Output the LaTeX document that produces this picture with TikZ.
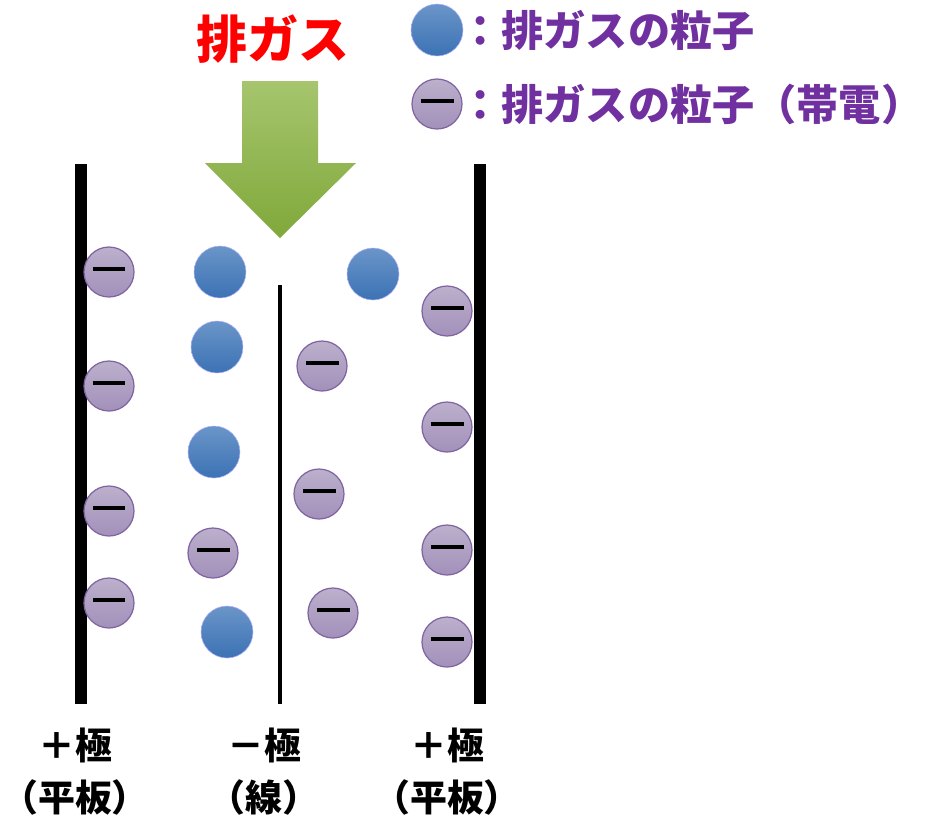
\documentclass[tikz,border=0pt]{standalone}
\usepackage{fontspec}
\setmainfont{Noto Sans CJK JP}
\definecolor{gasred}{HTML}{FF0000}
\definecolor{legendpurple}{HTML}{7030A0}
\tikzset{
  particle/.style={circle, minimum size=1.04cm, inner sep=0pt,
    draw=blue!30!white, line width=0.3pt,
    top color={rgb,255:red,106;green,149;blue,200},
    bottom color={rgb,255:red,60;green,114;blue,180}},
  charged/.style={circle, minimum size=1cm, inner sep=0pt,
    draw={rgb,255:red,128;green,100;blue,162}, line width=0.7pt,
    top color={rgb,255:red,188;green,176;blue,204},
    bottom color={rgb,255:red,162;green,144;blue,186},
    path picture={\fill[black]
      ([xshift=-0.33cm,yshift=0.025cm]path picture bounding box.center) rectangle
      ([xshift=0.33cm,yshift=0.095cm]path picture bounding box.center);}},
  plate/.style={line width=0.24cm, black},
  wire/.style={line width=0.07cm, black},
  polelabel/.style={align=center, inner sep=0pt, font=\bfseries\fontsize{21}{29.6}\selectfont}
}

\begin{document}
\begin{tikzpicture}[x=0.02cm,y=-0.02cm]
    \useasboundingbox (0,0) rectangle (925,826);
    \begin{scope}
        % electrodes
        \coordinate (leftTop) at (81,164);
        \coordinate (leftBot) at (81,704);
        \coordinate (rightTop) at (480,164);
        \coordinate (rightBot) at (480,704);
        \coordinate (wireTop) at (280,285);
        \coordinate (wireBot) at (280,704);
        \draw [plate] (leftTop) -- (leftBot);
        \draw [plate] (rightTop) -- (rightBot);
        \draw [wire] (wireTop) -- (wireBot);

        % exhaust arrow
        \shade [top color={rgb,255:red,166;green,197;blue,110},
                bottom color={rgb,255:red,128;green,168;blue,58}]
            (242,81) -- (318,81) -- (318,163) -- (356,163) -- (280,238)
            -- (205,163) -- (242,163) -- cycle;
        \node[font=\bfseries\fontsize{29}{31}\selectfont, text=gasred] (title) at (273,39) {排ガス};

        % legend
        \node[particle] (keyGas) at (437,30) {};
        \node[charged] (keyCharged) at (437,104) {};
        \node[anchor=west, inner sep=0pt, text=legendpurple,
              font=\bfseries\fontsize{24}{26}\selectfont] (keyGasText) at (459,30) {：排ガスの粒子};
        \node[anchor=west, inner sep=0pt, text=legendpurple,
              font=\bfseries\fontsize{24}{26}\selectfont] (keyChargedText) at (459,104) {：排ガスの粒子（帯電）};

        % particles
        \foreach \px/\py [count=\i] in {220/272, 217/347, 214/452, 227/632, 373/274}
            \node[particle] (gas\i) at (\px,\py) {};
        \foreach \px/\py [count=\i] in {109/272, 109/386, 109/511, 109/603, 213/553,
                                        322/366, 319/494, 333/613,
                                        447/311, 447/427, 447/550, 447/642}
            \node[charged] (ion\i) at (\px,\py) {};

        % pole labels
        \node[polelabel] (leftPole) at (75,772) {＋極\\（平板）};
        \node[polelabel] (wirePole) at (264,772) {－極\\（線）};
        \node[polelabel] (rightPole) at (447,772) {＋極\\（平板）};
    \end{scope}
\end{tikzpicture}
\end{document}
